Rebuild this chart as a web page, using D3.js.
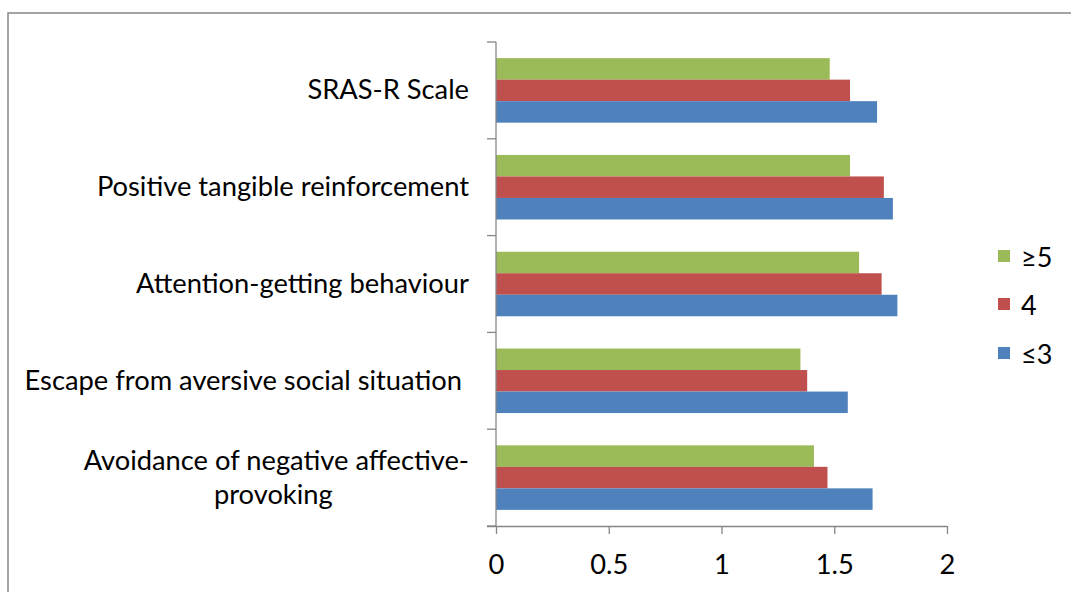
<!DOCTYPE html>
<html>
<head>
<meta charset="utf-8">
<script src="https://cdn.jsdelivr.net/npm/d3@7"></script>
<style>
  body { margin: 0; background: #fff; }
  svg { display: block; }
  text { font-family: Lato, "Noto Sans", sans-serif; fill: #000; }
</style>
</head>
<body>
<div id="chart"></div>
<script>
const categories = [
  "SRAS-R Scale",
  "Positive tangible reinforcement",
  "Attention-getting behaviour",
  "Escape from aversive social situation",
  "Avoidance of negative affective-provoking"
];
const series = ["≥5", "4", "≤3"];
const valuesGe5 = [1.48, 1.57, 1.61, 1.35, 1.41];
const values4 = [1.57, 1.72, 1.71, 1.38, 1.47];
const valuesLe3 = [1.69, 1.76, 1.78, 1.56, 1.67];
const tickValues = [0, 0.5, 1, 1.5, 2];
const colors = ["#9BBB59", "#C0504D", "#4F81BD"];

const W = 1071, H = 592;
const plotLeft = 496, plotRight = 947, plotTop = 42, plotBottom = 526;
const fontSize = 27.3;

const svg = d3.select("#chart").append("svg")
  .attr("width", W)
  .attr("height", H);

// outer frame
svg.append("rect")
  .attr("x", 8).attr("y", 13)
  .attr("width", W + 20).attr("height", H + 20)
  .attr("fill", "none")
  .attr("stroke", "#868686")
  .attr("stroke-width", 1.5);

const x = d3.scaleLinear().domain([0, 2]).range([plotLeft, plotRight]);
const y0 = d3.scaleBand().domain(categories).range([plotTop, plotBottom]).padding(0);
const step = y0.bandwidth();
const barH = step / 4.5;
const y1 = d3.scaleBand().domain(series)
  .range([barH * 0.75, step - barH * 0.75]).padding(0);

const rows = categories.map((c, i) => ({
  cat: c,
  vals: [valuesGe5[i], values4[i], valuesLe3[i]]
}));

svg.append("g").selectAll("g.cat")
  .data(rows)
  .enter()
  .append("g")
  .attr("class", "cat")
  .attr("transform", d => `translate(0,${y0(d.cat)})`)
  .selectAll("rect")
  .data(d => d.vals.map((v, j) => ({ s: series[j], v, j })))
  .enter()
  .append("rect")
  .attr("x", x(0))
  .attr("y", d => y1(d.s))
  .attr("width", d => x(d.v) - x(0))
  .attr("height", y1.bandwidth())
  .attr("fill", d => colors[d.j]);

// x axis
const xAxis = svg.append("g")
  .attr("transform", `translate(0,${plotBottom})`)
  .call(d3.axisBottom(x).tickValues(tickValues).tickFormat(d3.format("~g")).tickSizeOuter(0).tickSize(8));
xAxis.select(".domain").attr("stroke", "#868686").attr("stroke-width", 1.3)
  .attr("d", `M${plotLeft - 9},0.5H${plotRight}`);
xAxis.selectAll(".tick line").attr("stroke", "#868686").attr("stroke-width", 1.3);
xAxis.selectAll(".tick text")
  .attr("font-size", fontSize)
  .attr("font-family", "Lato, sans-serif")
  .attr("fill", "#000")
  .attr("dy", 0)
  .attr("y", 48);

// y axis: ticks between categories
const bounds = categories.map(c => y0(c)).concat([plotBottom]);
const yAxis = svg.append("g");
yAxis.append("line")
  .attr("x1", plotLeft).attr("x2", plotLeft)
  .attr("y1", plotTop).attr("y2", plotBottom)
  .attr("stroke", "#868686").attr("stroke-width", 1.3);
yAxis.selectAll("line.t")
  .data(bounds)
  .enter()
  .append("line")
  .attr("class", "t")
  .attr("x1", plotLeft - 9).attr("x2", plotLeft)
  .attr("y1", d => d).attr("y2", d => d)
  .attr("stroke", "#868686").attr("stroke-width", 1.3);

// category labels
const labelX = 469;
categories.forEach(c => {
  const cy = y0(c) + step / 2 - 1.5;
  if (c.startsWith("Avoidance")) {
    const t1 = svg.append("text")
      .attr("x", labelX).attr("y", cy - 17)
      .attr("text-anchor", "end")
      .attr("dominant-baseline", "central")
      .attr("font-size", fontSize)
      .text("Avoidance of negative affective-");
    const w = t1.node().getComputedTextLength();
    svg.append("text")
      .attr("x", labelX - w / 2 - 3).attr("y", cy + 17)
      .attr("text-anchor", "middle")
      .attr("dominant-baseline", "central")
      .attr("font-size", fontSize)
      .text("provoking");
  } else {
    svg.append("text")
      .attr("x", c.startsWith("Escape") ? labelX - 7 : labelX)
      .attr("y", cy)
      .attr("text-anchor", "end")
      .attr("dominant-baseline", "central")
      .attr("font-size", fontSize)
      .text(c);
  }
});

// legend
const legendY = [256, 304, 353];
const legend = svg.append("g");
series.forEach((s, i) => {
  legend.append("rect")
    .attr("x", 998).attr("y", legendY[i] - 6)
    .attr("width", 12).attr("height", 12)
    .attr("fill", colors[i]);
  legend.append("text")
    .attr("x", 1021).attr("y", legendY[i])
    .attr("dominant-baseline", "central")
    .attr("font-size", 27)
    .text(s);
});
</script>
</body>
</html>
